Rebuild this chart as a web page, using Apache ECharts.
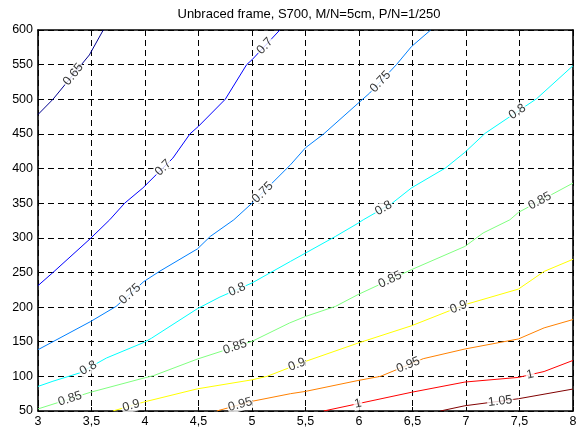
<!DOCTYPE html>
<html>
<head>
<meta charset="utf-8">
<script src="https://cdn.jsdelivr.net/npm/echarts@6/dist/echarts.min.js"></script>
<style>html,body{margin:0;padding:0;background:#fff}#c{width:580px;height:433px}</style>
</head>
<body>
<div id="c"></div>
<script>
// ---- data ----
var titleText = 'Unbraced frame, S700, M/N=5cm, P/N=1/250';
var xTicks = [3, 3.5, 4, 4.5, 5, 5.5, 6, 6.5, 7, 7.5, 8];
var yTicks = [50, 100, 150, 200, 250, 300, 350, 400, 450, 500, 550, 600];
var levels = [0.65, 0.7, 0.75, 0.8, 0.85, 0.9, 0.95, 1, 1.05];
var levelNames = ['0.65', '0.7', '0.75', '0.8', '0.85', '0.9', '0.95', '1', '1.05'];

var c065 = [[3,478],[3.14,500],[3.48,564],[3.61,600]];
var c070 = [[3,231],[3.14,250],[3.49,299],[3.67,326],[3.81,350],[3.98,372],[4.26,415],[4.42,450],[4.50,461],[4.75,500],[4.95,550],[5.0,557],[5.26,600]];
var c075 = [[3,138.5],[3.49,179],[3.73,201],[3.99,237],[4.14,252],[4.49,284],[4.61,302],[4.83,326],[5.0,350],[5.36,405.5],[5.5,430],[5.67,450],[5.99,494],[6.10,509],[6.35,550],[6.49,576],[6.67,600]];
var c080 = [[3,85.5],[3.14,93],[3.39,105],[3.64,126.5],[3.99,149],[4.06,155],[4.49,197.7],[4.70,214.5],[5.0,234.8],[5.36,266],[5.50,278],[5.78,302],[5.99,321],[6.04,326],[6.31,350],[6.49,372],[6.81,401],[6.99,423.5],[7.18,451],[7.66,500.8],[8,548.5]];
var c085 = [[3,53],[3.49,77],[3.99,97.6],[4.08,101],[4.49,125],[5.0,150.5],[5.35,177],[5.50,186.5],[5.78,201],[5.99,218],[6.49,254],[6.99,287.6],[7.16,307],[7.41,326],[7.49,336.7],[8,379]];
var c090 = [[3.70,50],[3.99,63],[4.49,82],[5.0,95],[5.14,100],[5.50,121.6],[5.99,148],[6.49,173],[6.99,203.5],[7.49,226],[7.73,251.5],[8,269]];
var c095 = [[4.67,50],[5.0,64],[5.36,75],[5.50,78.3],[5.99,94],[6.20,100],[6.60,125.5],[6.99,139.5],[7.49,154],[7.73,170],[8,182]];
var c100 = [[5.67,50],[6.49,77],[6.99,91.8],[7.49,98.5],[7.73,107],[8,123]];
var c105 = [[6.76,50],[6.99,57.6],[7.49,67.7],[8,81.7]];
var contours = [c065, c070, c075, c080, c085, c090, c095, c100, c105];

// label x positions along each contour (one list per level)
var labelX = [[3.33],[4.17,5.12],[3.86,5.1,6.2],[3.47,4.86,6.23,7.48],[3.30,4.84,6.29,7.69],[3.87,5.42,6.93],[4.89,6.46],[5.99,7.6],[7.32]];

// ---- styling ----
var jet = ['#00008f','#0000ff','#0080ff','#00ffff','#80ff80','#ffff00','#ff8000','#ff0000','#800000'];
var FONT = 'Liberation Sans, Arial, sans-serif';

function interpY(pts, x) {
  if (x <= pts[0][0]) return pts[0][1];
  for (var i = 1; i < pts.length; i++) {
    if (x <= pts[i][0]) {
      var a = pts[i-1], b = pts[i];
      return a[1] + (b[1]-a[1]) * (x-a[0]) / (b[0]-a[0]);
    }
  }
  return pts[pts.length-1][1];
}

var chart = echarts.init(document.getElementById('c'), null, {renderer: 'canvas'});
var GRID = {left: 38, right: 7, top: 30, bottom: 22};

function fmt(v) { return String(v).replace('.', ','); }

function buildLabelData(rot) {
  var d = [];
  for (var i = 0; i < levels.length; i++) {
    for (var j = 0; j < labelX[i].length; j++) {
      var x = labelX[i][j];
      var y = interpY(contours[i], x);
      var r = rot ? rot[i][j] : 0;
      d.push({value: [x, y], name: levelNames[i], label: {rotate: r}});
    }
  }
  return d;
}

function axisCommon(extra) {
  var o = {
    axisLine: {show: true, onZero: false, lineStyle: {color: '#000', width: 1.6}},
    axisTick: {show: true, inside: true, length: 4, lineStyle: {color: '#000'}}
  };
  for (var k in extra) o[k] = extra[k];
  return o;
}

function buildOption(rot) {
  var series = [];
  for (var i = 0; i < levels.length; i++) {
    series.push({
      type: 'line', data: contours[i], showSymbol: false, symbol: 'none',
      lineStyle: {color: jet[i], width: 1}, itemStyle: {color: jet[i]},
      silent: true, animation: false, z: 2
    });
  }
  series.push({
    type: 'scatter', data: buildLabelData(rot), symbolSize: 1,
    itemStyle: {color: 'rgba(0,0,0,0)'}, silent: true, animation: false, z: 5,
    label: {
      show: true, position: 'inside', formatter: function (p) { return p.name; },
      color: '#000', fontSize: 12.5, fontFamily: FONT,
      backgroundColor: '#fff', padding: [0, 1]
    }
  });
  return {
    animation: false,
    backgroundColor: '#fff',
    title: {
      text: titleText, left: 304, top: 3, textAlign: 'center',
      textStyle: {fontSize: 13, fontWeight: 'normal', color: '#000', fontFamily: FONT}
    },
    grid: GRID,
    xAxis: [axisCommon({
      type: 'value', min: 3, max: 8, interval: 0.5,
      axisLabel: {color: '#000', fontSize: 12.5, fontFamily: FONT, margin: 4, formatter: fmt},
      splitLine: {show: true, lineStyle: {color: '#000', width: 1, type: [6, 4]}}
    }), axisCommon({
      type: 'value', min: 3, max: 8, interval: 0.5, position: 'top',
      axisLabel: {show: false}, splitLine: {show: false}
    })],
    yAxis: [axisCommon({
      type: 'value', min: 50, max: 600, interval: 50,
      axisLabel: {color: '#000', fontSize: 12.5, fontFamily: FONT, margin: 5},
      splitLine: {show: true, lineStyle: {color: '#000', width: 1, type: [6, 4]}}
    }), axisCommon({
      type: 'value', min: 50, max: 600, interval: 50, position: 'right',
      axisLabel: {show: false}, splitLine: {show: false}
    })],
    series: series
  };
}

chart.setOption(buildOption(null));

// compute label rotations from the contour direction in pixel space
var rot = [];
for (var i = 0; i < levels.length; i++) {
  rot.push([]);
  for (var j = 0; j < labelX[i].length; j++) {
    var x = labelX[i][j], dx = 0.08;
    var p1 = chart.convertToPixel({gridIndex: 0}, [x - dx, interpY(contours[i], x - dx)]);
    var p2 = chart.convertToPixel({gridIndex: 0}, [x + dx, interpY(contours[i], x + dx)]);
    var ang = Math.atan2(-(p2[1] - p1[1]), p2[0] - p1[0]) * 180 / Math.PI;
    rot[i].push(Math.round(ang));
  }
}
chart.setOption(buildOption(rot));
</script>
</body>
</html>
